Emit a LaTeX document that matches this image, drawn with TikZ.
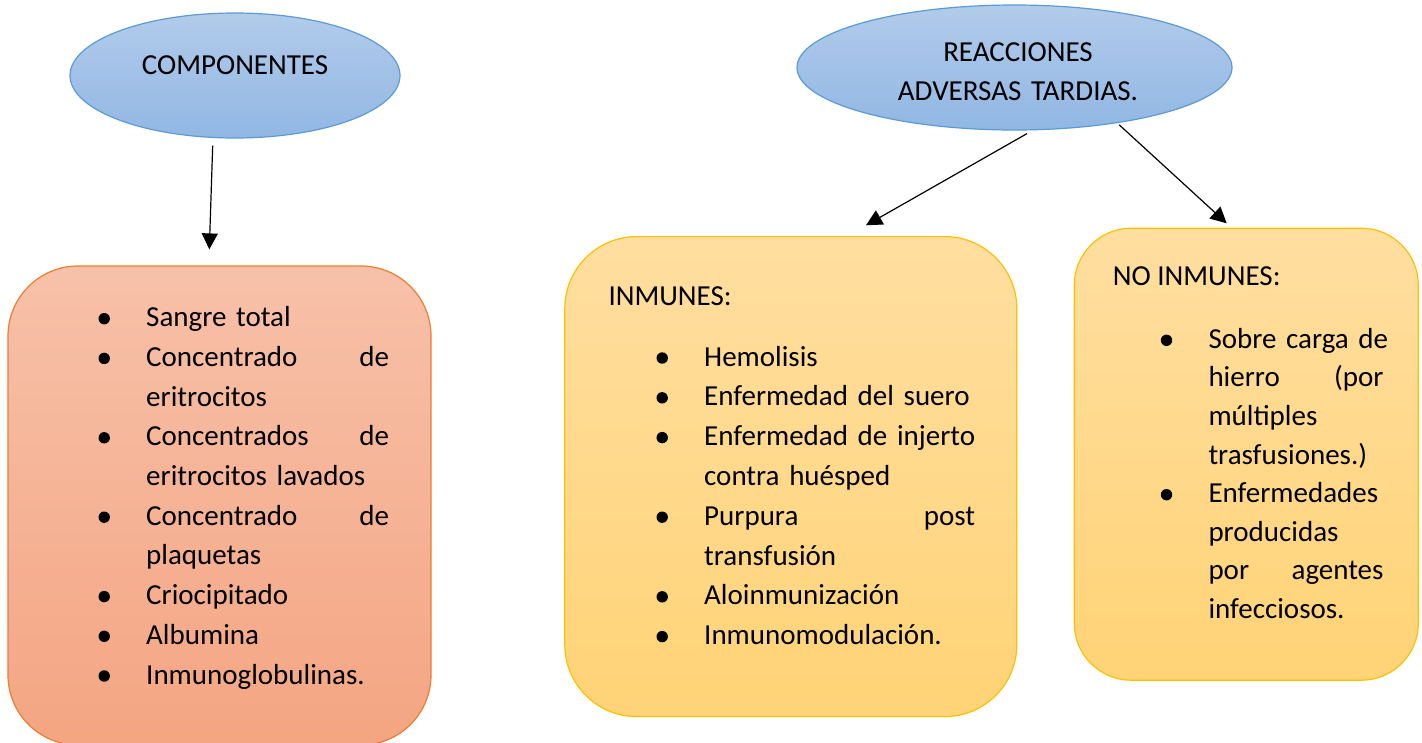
\documentclass[tikz,border=0pt]{standalone}
\usepackage{fontspec}
\setmainfont{Carlito}
\usetikzlibrary{shapes.geometric,arrows.meta}

\definecolor{bubbletop}{RGB}{178,203,234}
\definecolor{bubblebot}{RGB}{145,183,228}
\definecolor{bubbleline}{RGB}{91,155,213}
\definecolor{orangetop}{RGB}{247,193,169}
\definecolor{orangebot}{RGB}{244,165,130}
\definecolor{orangeline}{RGB}{237,125,49}
\definecolor{goldtop}{RGB}{255,222,160}
\definecolor{goldbot}{RGB}{255,211,118}
\definecolor{goldline}{RGB}{255,192,0}

\newcommand{\bul}{\leavevmode\llap{\tikz[baseline=0pt]\fill (0pt,8pt) circle[radius=5.7pt];\hspace{36.3pt}}}

\begin{document}
\begin{tikzpicture}[x=1pt,y=-1pt,
	bubble/.style={ellipse,draw=bubbleline,line width=1.2pt,top color=bubbletop,bottom color=bubblebot,inner sep=0pt},
	orangebox/.style={rectangle,rounded corners=70pt,draw=orangeline,line width=1.2pt,top color=orangetop,bottom color=orangebot,inner sep=0pt},
	goldbox/.style={rectangle,draw=goldline,line width=1.2pt,top color=goldtop,bottom color=goldbot,inner sep=0pt},
	headtext/.style={font=\fontsize{29}{39}\selectfont,inner sep=0pt},
	itemtext/.style={font=\fontsize{29}{39.7}\selectfont,inner sep=0pt,align=left,anchor=base west},
	arr/.style={-{Triangle[length=16pt,width=16pt]},line width=1.2pt}]
		\useasboundingbox (0,0) rectangle (1422,742);
		\node[bubble,minimum width=330pt,minimum height=125pt] (comp) at (235,75.5) {};
		\node[headtext,anchor=base] (compText) at (235,74) {COMPONENTES};
		\node[bubble,minimum width=435pt,minimum height=125pt] (reac) at (1014.5,67.5) {};
		\node[headtext,anchor=base,text width=330pt,align=center] (reacText) at (1018,61.3) {REACCIONES\\ADVERSAS TARDIAS.};
		\node[orangebox,minimum width=423pt,minimum height=479pt] (compBox) at (219.5,505.5) {};
		\node[goldbox,rounded corners=72pt,minimum width=452pt,minimum height=480pt] (inmBox) at (790.8,476.6) {};
		\node[goldbox,rounded corners=57pt,minimum width=344pt,minimum height=452pt] (noBox) at (1246.3,454.2) {};
		\node[itemtext,text width=243pt] (compList) at (146,326.7) {
			\bul Sangre total\\
			\bul Concentrado\hfill de\\
			eritrocitos\\
			\bul Concentrados\hfill de\\
			eritrocitos lavados\\
			\bul Concentrado\hfill de\\
			plaquetas\\
			\bul Criocipitado\\
			\bul Albumina\\
			\bul Inmunoglobulinas.};
		\node[headtext,anchor=base west] (inmHead) at (608.3,305) {INMUNES:};
		\node[itemtext,text width=271pt,font=\fontsize{29}{39.8}\selectfont] (inmList) at (704,366) {
			\bul Hemolisis\\
			\bul Enfermedad del suero\\
			\bul Enfermedad\hfill de\hfill injerto\\
			contra huésped\\
			\bul Purpura\hfill post\\
			transfusión\\
			\bul Aloinmunización\\
			\bul Inmunomodulación.};
		\node[headtext,anchor=base west] (noHead) at (1112.7,285) {NO INMUNES:};
		\node[itemtext,text width=175pt,font=\fontsize{29}{38.6}\selectfont] (noList) at (1208.3,348.3) {
			\bul \makebox[\linewidth][s]{Sobre carga de}\\
			hierro\hfill (por\\
			múltiples\\
			trasfusiones.)\\
			\bul Enfermedades\\
			producidas\\
			por\hfill agentes\\
			infecciosos.};
		\draw[arr] ([shift={(-22.3,7)}]comp.south) -- ([shift={(-10.2,-16)}]compBox.north);
		\draw[arr] ([shift={(12.5,3)}]reac.south) -- ([shift={(75.2,-10.7)}]inmBox.north);
		\draw[arr] ([shift={(104.8,-5.7)}]reac.south) -- ([shift={(-19.6,-4.3)}]noBox.north);
	\end{tikzpicture}
\end{document}
